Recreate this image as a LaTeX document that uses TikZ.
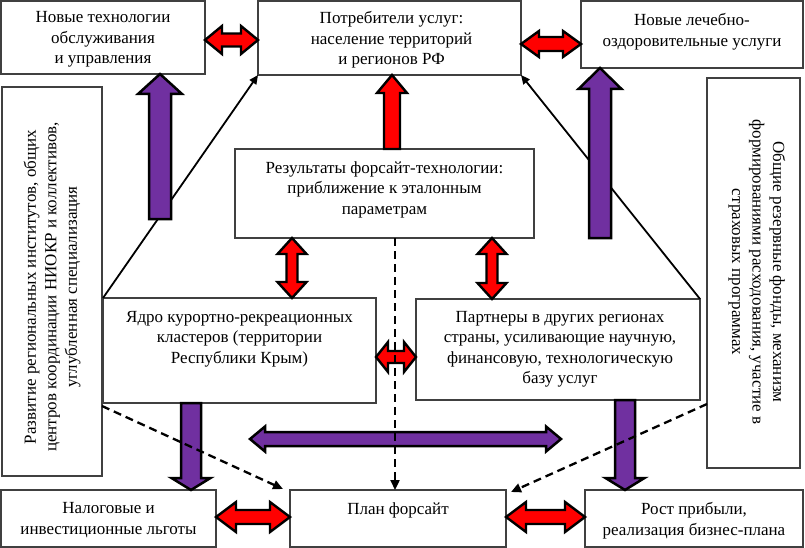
\documentclass[tikz,border=0pt]{standalone}
\usepackage{fontspec}
\setmainfont{Liberation Serif}
\usetikzlibrary{calc,arrows.meta}
\definecolor{myred}{HTML}{FF0000}
\definecolor{mypurple}{HTML}{7030A0}
\definecolor{boxline}{HTML}{404040}
% horizontal double block arrow: #1 left tip, #2 right tip, #3 shaft half, #4 head half, #5 head length, #6 style
\newcommand\hdbl[6]{\path[#6] let \p1=#1, \p2=#2 in
 (\x1,\y1) -- (\x1+#5pt,\y1+#4pt) -- (\x1+#5pt,\y1+#3pt) -- (\x2-#5pt,\y1+#3pt) -- (\x2-#5pt,\y1+#4pt) -- (\x2,\y1)
 -- (\x2-#5pt,\y1-#4pt) -- (\x2-#5pt,\y1-#3pt) -- (\x1+#5pt,\y1-#3pt) -- (\x1+#5pt,\y1-#4pt) -- cycle;}
% vertical double block arrow: #1 top tip, #2 bottom tip
\newcommand\vdbl[6]{\path[#6] let \p1=#1, \p2=#2 in
 (\x1,\y1) -- (\x1+#4pt,\y1-#5pt) -- (\x1+#3pt,\y1-#5pt) -- (\x1+#3pt,\y2+#5pt) -- (\x1+#4pt,\y2+#5pt) -- (\x1,\y2)
 -- (\x1-#4pt,\y2+#5pt) -- (\x1-#3pt,\y2+#5pt) -- (\x1-#3pt,\y1-#5pt) -- (\x1-#4pt,\y1-#5pt) -- cycle;}
% single up arrow: #1 tip (top), #2 base (bottom)
\newcommand\uparr[6]{\path[#6] let \p1=#1, \p2=#2 in
 (\x1,\y1) -- (\x1+#4pt,\y1-#5pt) -- (\x1+#3pt,\y1-#5pt) -- (\x1+#3pt,\y2) -- (\x1-#3pt,\y2) -- (\x1-#3pt,\y1-#5pt) -- (\x1-#4pt,\y1-#5pt) -- cycle;}
% single down arrow: #1 tip (bottom), #2 base (top)
\newcommand\downarr[6]{\path[#6] let \p1=#1, \p2=#2 in
 (\x1,\y1) -- (\x1+#4pt,\y1+#5pt) -- (\x1+#3pt,\y1+#5pt) -- (\x1+#3pt,\y2) -- (\x1-#3pt,\y2) -- (\x1-#3pt,\y1+#5pt) -- (\x1-#4pt,\y1+#5pt) -- cycle;}
\tikzset{
 box/.style={draw=boxline, line width=1.1pt, fill=white, inner sep=0pt, outer sep=0pt, anchor=north west},
 txt/.style={inner sep=0pt, align=center, font=\fontsize{17}{20.5}\selectfont},
 redarr/.style={draw=black, line width=2.4pt, fill=myred, line join=miter},
 purarr/.style={draw=black, line width=2.5pt, fill=mypurple, line join=miter},
 thinarr/.style={line width=1.8pt, -{Triangle[length=9pt,width=8pt]}},
 dasharr/.style={line width=2.3pt, dash pattern=on 8pt off 5pt, -{Triangle[length=10pt,width=9pt]}}
}
\begin{document}
\begin{tikzpicture}[x=1pt,y=-1pt]
\useasboundingbox (0,0) rectangle (805,548);
% boxes
\node[box, minimum width=204pt, minimum height=73pt] (tl) at (1,1) {};
\node[box, minimum width=263pt, minimum height=74pt] (tc) at (258,1) {};
\node[box, minimum width=222pt, minimum height=67pt] (tr) at (581,1) {};
\node[box, minimum width=100pt, minimum height=389pt] (lv) at (2,87) {};
\node[box, minimum width=93pt, minimum height=390pt] (rv) at (707,78) {};
\node[box, minimum width=299pt, minimum height=89pt] (res) at (235,149) {};
\node[box, minimum width=273pt, minimum height=105pt] (jad) at (103,298) {};
\node[box, minimum width=284pt, minimum height=101pt] (par) at (416,299) {};
\node[box, minimum width=215pt, minimum height=57pt] (bl) at (1,490) {};
\node[box, minimum width=216pt, minimum height=57pt] (plan) at (290,490) {};
\node[box, minimum width=218pt, minimum height=57pt] (br) at (585,490) {};
% texts
\node[txt, anchor=north] (tl-t) at ([yshift=-10.5pt]tl.north) {Новые технологии\\обслуживания\\и управления};
\node[txt, anchor=north] (tc-t) at ([xshift=2pt,yshift=-10.5pt]tc.north) {Потребители услуг:\\население территорий\\и регионов РФ};
\node[txt, anchor=north] (tr-t) at ([yshift=-12.5pt]tr.north) {Новые лечебно-\\оздоровительные услуги};
\node[txt, anchor=north] (res-t) at ([yshift=-12.5pt]res.north) {Результаты форсайт-технологии:\\приближение к эталонным\\параметрам};
\node[txt, anchor=north] (jad-t) at ([yshift=-13pt]jad.north) {Ядро курортно-рекреационных\\кластеров (территории\\Республики Крым)};
\node[txt, anchor=north] (par-t) at ([xshift=2pt,yshift=-12pt]par.north) {Партнеры в других регионах\\страны, усиливающие научную,\\финансовую, технологическую\\базу услуг};
\node[txt, anchor=north] (bl-t) at ([yshift=-12.5pt]bl.north) {Налоговые и\\инвестиционные льготы};
\node[txt, anchor=north] (plan-t) at ([yshift=-12.5pt]plan.north) {План форсайт};
\node[txt, anchor=north] (br-t) at ([yshift=-12.5pt]br.north) {Рост прибыли,\\реализация бизнес-плана};
\node[txt, rotate=90] (lv-t) at (52,287) {Развитие региональных институтов, общих\\центров координации НИОКР и коллективов,\\углубленная специализация};
\node[txt, rotate=-90] (rv-t) at (757,272) {Общие резервные фонды, механизм\\формированиями расходования, участие в\\страховых программах};
% thin solid arrows
\draw[thinarr] (jad.north west) -- (tc.south west);
\draw[thinarr] (par.north east) -- (tc.south east);
% purple block arrows
\uparr{(160,0 |- tl.south)}{(160,219)}{11}{22}{20}{purarr}
\uparr{(600,0 |- tr.south)}{(600,238)}{11}{21.5}{21}{purarr}
\downarr{(191,0 |- bl.north)}{(191,0 |- jad.south)}{10}{19.5}{12}{purarr}
\downarr{(625,0 |- br.north)}{(625,0 |- par.south)}{10}{19.5}{12}{purarr}
\hdbl{(250,439)}{(561,439)}{7}{12.5}{15}{purarr}
% red block arrows
\hdbl{(tl.east |- 0,40)}{(tc.west |- 0,40)}{6.5}{14}{17}{redarr}
\hdbl{(tc.east |- 0,44)}{(tr.west |- 0,44)}{7}{13}{18}{redarr}
\uparr{(392,0 |- tc.south)}{(392,0 |- res.north)}{8}{15}{18}{redarr}
\vdbl{(292,0 |- res.south)}{(292,0 |- jad.north)}{5.5}{14.5}{16}{redarr}
\vdbl{(492,0 |- res.south)}{(492,0 |- par.north)}{5.5}{14.5}{16}{redarr}
\hdbl{(jad.east |- 0,357)}{(par.west |- 0,357)}{6}{15}{12}{redarr}
\hdbl{(bl.east |- 0,517)}{(plan.west |- 0,517)}{7}{15}{20}{redarr}
\hdbl{(plan.east |- 0,517)}{(br.west |- 0,517)}{7}{15}{20}{redarr}
% dashed arrows
\coordinate (dl) at (283,489);
\coordinate (dr) at (511,492);
\draw[dasharr] (lv.east |- 0,406) -- (dl);
\draw[dasharr] (395,0 |- res.south) -- (395,0 |- plan.north);
\draw[dasharr] (rv.west |- 0,404) -- (dr);
\end{tikzpicture}
\end{document}
